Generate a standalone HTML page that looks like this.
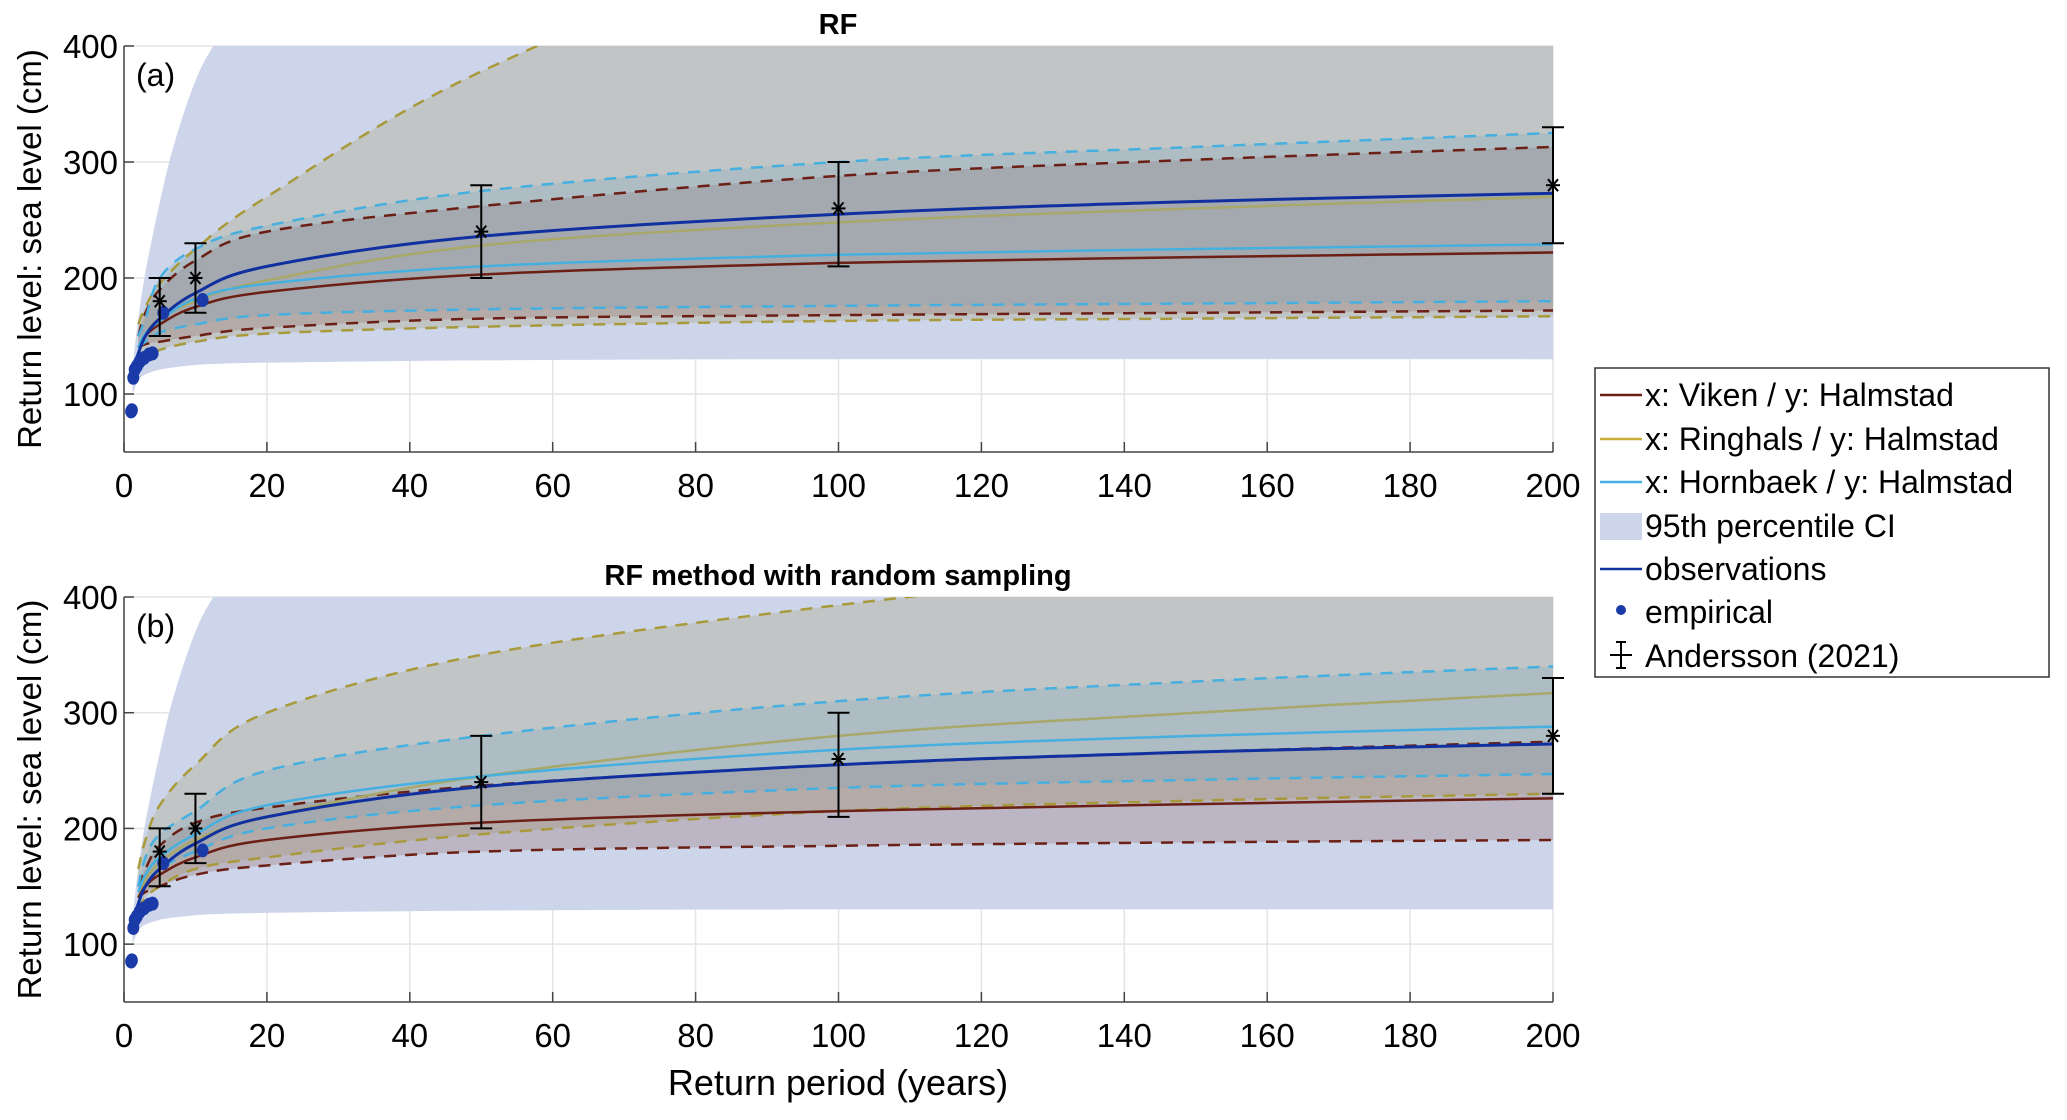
<!DOCTYPE html>
<html><head><meta charset="utf-8"><style>
body{margin:0;background:#fff;}
svg text{font-family:"Liberation Sans",sans-serif;}
</style></head><body>
<svg id="fig" width="2067" height="1115" xmlns="http://www.w3.org/2000/svg">
<rect width="2067" height="1115" fill="#fff"/>
<g id="pa"></g>
<g id="pb"></g>
<text x="838" y="1095" font-size="36" text-anchor="middle">Return period (years)</text>
<g>
<rect x="1595" y="368" width="454" height="309" fill="#fff" stroke="#333" stroke-width="1.5"/>
<line x1="1600" y1="395" x2="1642" y2="395" stroke="#6b1f15" stroke-width="2.5"/><text x="1645" y="406" font-size="32">x: Viken / y: Halmstad</text>
<line x1="1600" y1="439" x2="1642" y2="439" stroke="#c9ae3a" stroke-width="2.5"/><text x="1645" y="450" font-size="32">x: Ringhals / y: Halmstad</text>
<line x1="1600" y1="482" x2="1642" y2="482" stroke="#45b0e0" stroke-width="2.5"/><text x="1645" y="493" font-size="32">x: Hornbaek / y: Halmstad</text>
<rect x="1600" y="513" width="42" height="27" fill="#cdd5ea"/><text x="1645" y="537" font-size="32">95th percentile CI</text>
<line x1="1600" y1="569" x2="1642" y2="569" stroke="#1030a0" stroke-width="2.5"/><text x="1645" y="580" font-size="32">observations</text>
<circle cx="1621" cy="610" r="5" fill="#1a3aa8"/><text x="1645" y="623" font-size="32">empirical</text>
<g stroke="#000" stroke-width="2"><line x1="1610" y1="655" x2="1632" y2="655"/><line x1="1621" y1="642" x2="1621" y2="668"/><line x1="1616" y1="642" x2="1626" y2="642"/><line x1="1616" y1="668" x2="1626" y2="668"/></g>
<text x="1645" y="667" font-size="32">Andersson (2021)</text>
</g>
</svg>
<script>
// ---- data ----
const xTicks=[0,20,40,60,80,100,120,140,160,180,200];
const yTicks=[100,200,300,400];
const ciX=[1.2,1.5,2,3,5,7,10,13,20,50,100,200];
const ciLo=[100,105,112,117,121,123,125,126,127,129,130,130];
const ciHi=[120,140,165,205,265,315,370,405,470,560,640,720];
const obsX=[1.5,2,3,5,10,20,50,100,150,200];
const obsY=[125,135,150,165,187,210,236,255,266,273];
const empX=[1,1.1,1.3,1.5,1.8,2.2,2.8,3.5,4,5.5,11];
const empY=[85,86,114,121,124,128,131,134,135,170,181];
const andX=[5,10,50,100,200];
const andY=[180,200,240,260,280];
const andLo=[150,170,200,210,230];
const andHi=[200,230,280,300,330];
const sX=[2,3,5,10,20,50,100,150,200];
// panel a
const aVikM=[140,150,160,175,188,203,213,218,222];
const aVikL=[140,143,145,150,157,165,168,170,172];
const aVikU=[150,170,190,215,240,262,288,302,313];
const aRinM=[140,152,165,180,198,228,248,260,270];
const aRinL=[125,132,138,145,152,158,163,165,167];
const aRinU=[160,175,195,225,270,378,500,560,600];
const aHorM=[140,152,163,182,195,210,220,225,229];
const aHorL=[140,145,153,160,168,173,176,178,180];
const aHorU=[150,165,200,225,245,275,300,313,325];
// panel b
const bVikM=[140,150,160,175,190,205,215,221,226];
const bVikL=[140,145,150,160,168,180,185,188,190];
const bVikU=[150,165,185,205,218,237,255,266,275];
const bRinM=[140,155,170,190,210,245,280,300,317];
const bRinL=[130,140,150,165,175,195,215,224,230];
const bRinU=[165,190,220,255,300,350,393,425,450];
const bHorM=[145,160,175,195,220,245,268,280,288];
const bHorL=[140,150,165,180,200,220,235,242,247];
const bHorU=[150,175,195,215,250,280,310,327,340];

const NS="http://www.w3.org/2000/svg";
function mk(p,t,a){const e=document.createElementNS(NS,t);for(const k in a)e.setAttribute(k,a[k]);p.appendChild(e);return e;}
function path(pts){
  let d="M"+pts[0][0]+","+pts[0][1];
  for(let i=0;i<pts.length-1;i++){const p0=pts[i-1]||pts[i],p1=pts[i],p2=pts[i+1],p3=pts[i+2]||p2;
    d+=" C"+(p1[0]+(p2[0]-p0[0])/6)+","+(p1[1]+(p2[1]-p0[1])/6)+" "+(p2[0]-(p3[0]-p1[0])/6)+","+(p2[1]-(p3[1]-p1[1])/6)+" "+p2[0]+","+p2[1];}
  return d;}
function panel(gid,top,bot,title,lab,S,cid){
  const g=document.getElementById(gid);
  const L=124,R=1553;
  const X=v=>L+(R-L)*v/200, Y=v=>bot-(bot-top)*(v-50)/350;
  const defs=mk(g,"defs",{});const cp=mk(defs,"clipPath",{id:cid});mk(cp,"rect",{x:L,y:top,width:R-L,height:bot-top});
  xTicks.forEach(t=>{const l=mk(g,"line",{x1:X(t),x2:X(t),y1:top,y2:bot,stroke:"#e4e4e4","stroke-width":1.5});});
  yTicks.forEach(t=>{const l=mk(g,"line",{x1:L,x2:R,y1:Y(t),y2:Y(t),stroke:"#e4e4e4","stroke-width":1.5});});
  const c=mk(g,"g",{"clip-path":"url(#"+cid+")"});
  const band=(xs,lo,hi,fill,op,name)=>{const up=xs.map((x,i)=>[X(x),Y(hi[i])]);const dn=xs.map((x,i)=>[X(x),Y(lo[i])]).reverse();
    const d=path(up)+" L"+dn[0][0]+","+dn[0][1]+" "+path(dn).slice(1)+" Z";
    const e=mk(c,"path",{d:d,fill:fill,"fill-opacity":op});};
  band(ciX,ciLo,ciHi,"#cdd5ea",1,"ci-band");
  const line=(xs,ys,col,w,dash,name)=>{const e=mk(c,"path",{d:path(xs.map((x,i)=>[X(x),Y(ys[i])])),fill:"none",stroke:col,"stroke-width":w});if(dash)e.setAttribute("stroke-dasharray",dash);};
  const ser=[[S[3],S[4],S[5],"#b0a880",0.35,"#a89a3a","ringhals"],[S[0],S[1],S[2],"#8a5a55",0.25,"#6b1f15","viken"],[S[6],S[7],S[8],"#70a8c0",0.25,"#45b0e0","hornbaek"]];
  ser.forEach(s=>band(sX,s[1],s[2],s[3],s[4],s[6]+"-band"));
  ser.forEach(s=>{line(sX,s[1],s[5],2.5,"12,9",s[6]+"-lower");line(sX,s[2],s[5],2.5,"12,9",s[6]+"-upper");});
  ser.forEach(s=>line(sX,s[0],s[6]=="ringhals"?"#a8a86a":(s[6]=="viken"?"#6b1f15":"#45b0e0"),2.5,null,s[6]+"-line"));
  line(obsX,obsY,"#1030a0",3,null,"observations-line");
  empX.forEach((x,i)=>{const e=mk(c,"ellipse",{cx:X(x),cy:Y(empY[i]),rx:6,ry:7,fill:"#1a3aa8"});});
  andX.forEach((x,i)=>{const e=mk(g,"g",{stroke:"#000","stroke-width":2});
    const xx=X(x);mk(e,"line",{x1:xx,x2:xx,y1:Y(andLo[i]),y2:Y(andHi[i])});
    mk(e,"line",{x1:xx-11,x2:xx+11,y1:Y(andLo[i]),y2:Y(andLo[i])});mk(e,"line",{x1:xx-11,x2:xx+11,y1:Y(andHi[i]),y2:Y(andHi[i])});
    const yy=Y(andY[i]);mk(e,"line",{x1:xx-7,x2:xx+7,y1:yy,y2:yy});mk(e,"line",{x1:xx-5,x2:xx+5,y1:yy-6,y2:yy+6});mk(e,"line",{x1:xx-5,x2:xx+5,y1:yy+6,y2:yy-6});});
  mk(g,"line",{x1:L,x2:R,y1:bot,y2:bot,stroke:"#444","stroke-width":1.5});
  mk(g,"line",{x1:L,x2:L,y1:top,y2:bot,stroke:"#444","stroke-width":1.5});
  xTicks.forEach(t=>{mk(g,"line",{x1:X(t),x2:X(t),y1:bot,y2:bot-10,stroke:"#444","stroke-width":1.5});
    const e=mk(g,"text",{x:X(t),y:bot+45,"font-size":33,"text-anchor":"middle"});e.textContent=t;});
  yTicks.forEach(t=>{mk(g,"line",{x1:L,x2:L+10,y1:Y(t),y2:Y(t),stroke:"#444","stroke-width":1.5});
    const e=mk(g,"text",{x:L-6,y:Y(t)+12,"font-size":33,"text-anchor":"end"});e.textContent=t;});
  const yl=mk(g,"text",{x:0,y:0,"font-size":33,"text-anchor":"middle",transform:"translate(41,"+((top+bot)/2)+") rotate(-90)"});yl.textContent="Return level: sea level (cm)";
  const tt=mk(g,"text",{x:838,y:top-12,"font-size":29,"font-weight":"bold","text-anchor":"middle"});tt.textContent=title;
  const lb=mk(g,"text",{x:136,y:top+40,"font-size":32});lb.textContent=lab;
}
panel("pa",46,452,"RF","(a)",[aVikM,aVikL,aVikU,aRinM,aRinL,aRinU,aHorM,aHorL,aHorU],"ca");
panel("pb",597,1002,"RF method with random sampling","(b)",[bVikM,bVikL,bVikU,bRinM,bRinL,bRinU,bHorM,bHorL,bHorU],"cb");
</script>
</body></html>
